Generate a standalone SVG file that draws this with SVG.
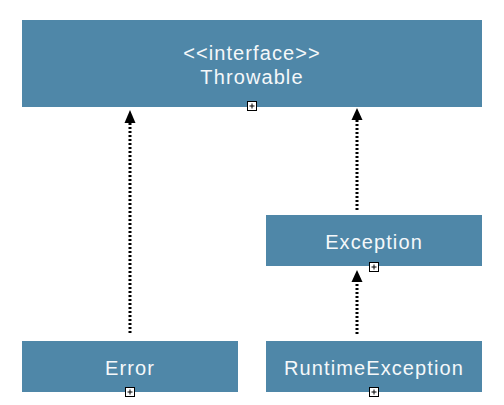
<svg xmlns="http://www.w3.org/2000/svg" width="504" height="405" viewBox="0 0 504 405">
<style>
.box{fill:#4f87a8}
.lbl{font-family:"Liberation Sans",Arial,sans-serif;font-size:20px;fill:#f5f8fa;text-anchor:middle;letter-spacing:1.1px}
.ico{fill:#fff;stroke:#000;stroke-width:1}
.plus{stroke:#000;stroke-width:1;fill:none}
.dep{stroke:#000;stroke-width:3;stroke-dasharray:2 2;fill:none}
.head{fill:#000}
</style>
<rect width="504" height="405" fill="#fff"/>
<g id="connectors">
<line class="dep" x1="130" y1="333" x2="130" y2="122"/>
<polygon class="head" points="130,110 124.5,123 135.5,123"/>
<line class="dep" x1="357" y1="210" x2="357" y2="119"/>
<polygon class="head" points="357,108 351.5,120 362.5,120"/>
<line class="dep" x1="357" y1="334" x2="357" y2="281"/>
<polygon class="head" points="357,270 351.5,282 362.5,282"/>
</g>
<g id="throwable">
<rect class="box" x="22" y="20" width="460" height="87"/>
<text class="lbl" x="252" y="60">&lt;&lt;interface&gt;&gt;</text>
<text class="lbl" x="252" y="84">Throwable</text>
<rect class="ico" x="247.5" y="101.5" width="9" height="9"/>
<path class="plus" d="M249.5 106h5M252 103.5v5"/>
</g>
<g id="exception">
<rect class="box" x="266" y="215" width="216" height="51"/>
<text class="lbl" x="374" y="249">Exception</text>
<rect class="ico" x="369.5" y="262.5" width="9" height="9"/>
<path class="plus" d="M371.5 267h5M374 264.5v5"/>
</g>
<g id="error">
<rect class="box" x="22" y="341" width="216" height="51"/>
<text class="lbl" x="130" y="375">Error</text>
<rect class="ico" x="125.5" y="387.5" width="9" height="9"/>
<path class="plus" d="M127.5 392h5M130 389.5v5"/>
</g>
<g id="runtimeexception">
<rect class="box" x="266" y="341" width="216" height="51"/>
<text class="lbl" x="374" y="375">RuntimeException</text>
<rect class="ico" x="369.5" y="387.5" width="9" height="9"/>
<path class="plus" d="M371.5 392h5M374 389.5v5"/>
</g>
</svg>
